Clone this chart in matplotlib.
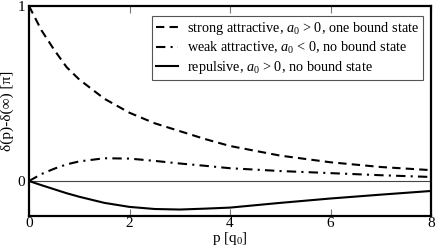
import matplotlib
matplotlib.use("Agg")
import matplotlib.pyplot as plt

plt.rcParams['font.family'] = ['Liberation Serif', 'DejaVu Serif']
plt.rcParams['mathtext.fontset'] = 'custom'
plt.rcParams['mathtext.rm'] = 'Liberation Serif'
plt.rcParams['mathtext.it'] = 'Liberation Serif:italic'

p = [0, 0.25, 0.5, 0.75, 1, 1.5, 2, 2.5, 3, 3.5, 4, 5, 6, 7, 8]
strong = [1.0, 0.86, 0.75, 0.65, 0.58, 0.47, 0.39, 0.33, 0.285, 0.24, 0.20, 0.145, 0.107, 0.08, 0.062]
weak = [0.0, 0.04, 0.07, 0.095, 0.112, 0.13, 0.128, 0.115, 0.10, 0.087, 0.073, 0.057, 0.045, 0.033, 0.023]
repulsive = [0.0, -0.024, -0.047, -0.07, -0.09, -0.125, -0.148, -0.16, -0.163, -0.158, -0.152, -0.125, -0.10, -0.078, -0.057]

labels = [r"strong attractive, $a_0$ > 0, one bound state",
          r"weak attractive, $a_0$ < 0, no bound state",
          r"repulsive, $a_0$ > 0, no bound state"]
xticks = [0, 2, 4, 6, 8]
yticks = [0, 1]

fig = plt.figure(figsize=(4.36, 2.49), dpi=100)
ax = fig.add_axes([29/436, 1-216/249, (431-29)/436, (216-6)/249])

ax.axhline(0, color='#444444', lw=0.8, zorder=1)
ax.plot(p, strong, color='black', lw=1.5, dashes=(4, 2.5), label=labels[0])
ax.plot(p, weak, color='black', lw=1.5, dashes=(4.5, 2.5, 1, 2.5), label=labels[1])
ax.plot(p, repulsive, color='black', lw=1.5, label=labels[2])

ax.set_xlim(0, 8)
ax.set_ylim(-0.2, 1.0)
ax.set_xticks(xticks)
ax.set_yticks(yticks)
ax.set_xticklabels([str(t) for t in xticks])
ax.set_yticklabels([str(t) for t in yticks])
ax.tick_params(direction='in', length=5, width=0.8, color='#777777', labelsize=11,
               top=True, right=False, pad=1)
ax.tick_params(axis='y', length=0, pad=3)
for s in ax.spines.values():
    s.set_linewidth(1.6)

ax.set_xlabel(r"p [q$_0$]", fontsize=11, labelpad=0)
ax.set_ylabel(r"δ(p)-δ(∞) [π]", fontsize=11, labelpad=2)

leg = ax.legend(loc='upper right', bbox_to_anchor=(0.98, 0.952), fontsize=10.3,
                frameon=True, fancybox=False, edgecolor='#555555', framealpha=1,
                handlelength=1.55, handletextpad=0.6, borderpad=0.3, labelspacing=0.2,
                borderaxespad=0)
leg.get_frame().set_linewidth(0.8)

fig.savefig("out.png", dpi=100)
